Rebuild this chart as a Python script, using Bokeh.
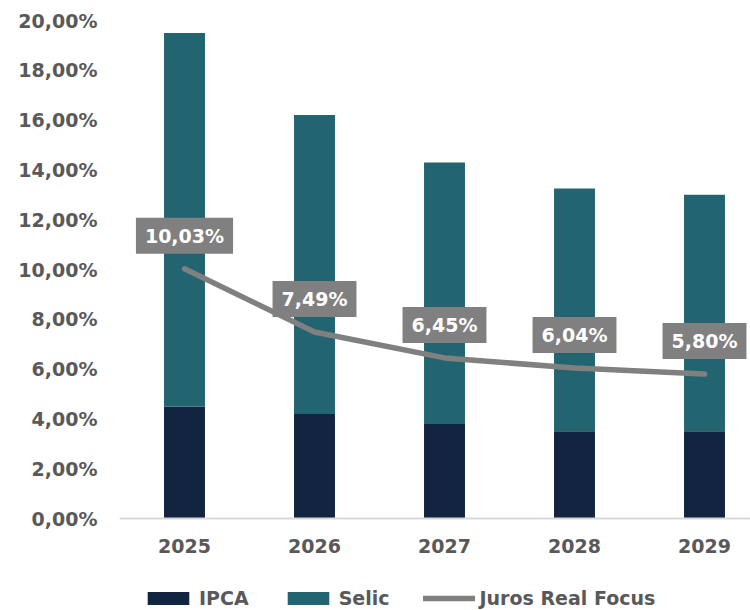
from bokeh.plotting import figure
from bokeh.models import Range1d, FixedTicker, Legend, LegendItem, ColumnDataSource
from bokeh.core.properties import value
from bokeh.embed import file_html
from bokeh.resources import INLINE

years = ["2025", "2026", "2027", "2028", "2029"]
ipca = [4.50, 4.20, 3.80, 3.50, 3.50]
selic = [15.00, 12.00, 10.50, 9.75, 9.50]
juros_real = [10.03, 7.49, 6.45, 6.04, 5.80]
y_ticks = [0, 2, 4, 6, 8, 10, 12, 14, 16, 18, 20]

FONT = "DejaVu Sans"
GRAY_TXT = "#595959"

PX_PER_UNIT = 24.9
BELOW_PX = 92  # space under the zero line kept inside the frame for labels + legend

xs = list(range(len(years)))
src = ColumnDataSource(dict(
    x=xs,
    ipca=ipca,
    selic_top=[a + b for a, b in zip(ipca, selic)],
    zero=[0] * len(xs),
    jr=juros_real,
    jr_lbl=[f"{v:.2f}".replace(".", ",") + "%" for v in juros_real],
))

p = figure(
    frame_width=631, frame_height=590,
    min_border_left=119, min_border_right=0, min_border_top=20, min_border_bottom=0,
    x_range=Range1d(-0.5, -0.5 + 631 / 130),
    y_range=Range1d(-BELOW_PX / PX_PER_UNIT, 20),
    output_backend="svg", toolbar_location=None,
)
p.outline_line_color = None
p.xgrid.visible = False
p.ygrid.visible = False
p.background_fill_color = "white"
p.border_fill_color = "white"

r_ipca = p.vbar(x="x", bottom="zero", top="ipca", width=0.315, source=src,
                fill_color="#12243f", line_color=None)
r_selic = p.vbar(x="x", bottom="ipca", top="selic_top", width=0.315, source=src,
                 fill_color="#236471", line_color=None)
r_line = p.line(x="x", y="jr", source=src, line_color="#808080", line_width=5.5,
                line_cap="round", line_join="round")

p.text(x="x", y="jr", text="jr_lbl", source=src, y_offset=-33,
       text_align="center", text_baseline="middle",
       text_font=value(FONT), text_font_style="bold", text_font_size="19px",
       text_color="white", background_fill_color="#808080",
       padding=dict(left=9, right=9, top=7, bottom=7))

# axes
xa = p.xaxis[0]
xa.fixed_location = 0
xa.ticker = FixedTicker(ticks=xs)
xa.major_label_overrides = {i: y for i, y in enumerate(years)}
xa.axis_line_color = "#d9d9d9"
xa.axis_line_width = 2
xa.major_tick_line_color = None
xa.minor_tick_line_color = None
xa.major_tick_out = 0
xa.major_tick_in = 0
xa.minor_tick_out = 0
xa.minor_tick_in = 0
xa.major_label_standoff = 20
xa.major_label_text_font = FONT
xa.major_label_text_font_style = "bold"
xa.major_label_text_font_size = "19px"
xa.major_label_text_color = GRAY_TXT

ya = p.yaxis[0]
ya.ticker = FixedTicker(ticks=y_ticks)
ya.major_label_overrides = {t: f"{t:.2f}".replace(".", ",") + "%" for t in y_ticks}
ya.axis_line_color = None
ya.major_tick_line_color = None
ya.minor_tick_line_color = None
ya.major_tick_out = 0
ya.minor_tick_out = 0
ya.major_label_standoff = 22
ya.major_label_text_font = FONT
ya.major_label_text_font_style = "bold"
ya.major_label_text_font_size = "19px"
ya.major_label_text_color = GRAY_TXT

legend = Legend(
    items=[LegendItem(label="IPCA", renderers=[r_ipca]),
           LegendItem(label="Selic", renderers=[r_selic]),
           LegendItem(label="Juros Real Focus", renderers=[r_line])],
    orientation="horizontal", location=(23, 1),
    glyph_width=52, glyph_height=16, label_standoff=5, spacing=33,
    padding=0, margin=0, border_line_color=None, background_fill_alpha=0,
    label_text_font=FONT, label_text_font_style="bold", label_text_font_size="19px",
    label_text_color=GRAY_TXT,
)
p.add_layout(legend, "center")

open("out.html", "w").write(file_html(p, INLINE))
